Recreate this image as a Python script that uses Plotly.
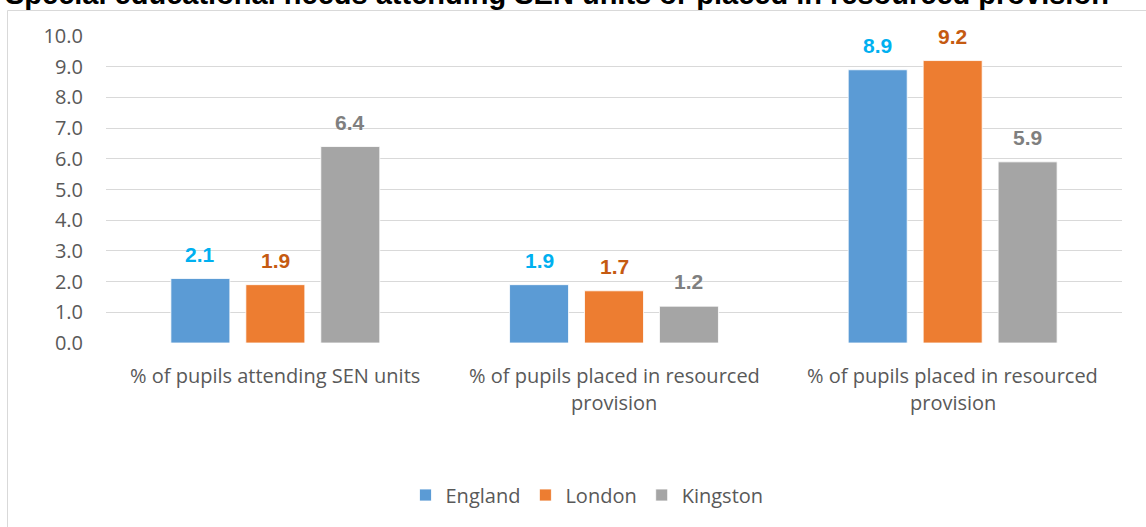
import plotly.graph_objects as go

# ---- data ----
title_text = "Special educational needs attending SEN units or placed in resourced provision"
category_lines = [
    ["% of pupils attending SEN units"],
    ["% of pupils placed in resourced", "provision"],
    ["% of pupils placed in resourced", "provision"],
]
series_names = ["England", "London", "Kingston"]
england = [2.1, 1.9, 8.9]
london = [1.9, 1.7, 9.2]
kingston = [6.4, 1.2, 5.9]
y_ticks = [0, 1, 2, 3, 4, 5, 6, 7, 8, 9, 10]

bar_colors = ["#5B9BD5", "#ED7D31", "#A5A5A5"]
label_colors = ["#00B0F0", "#C55A11", "#7F7F7F"]

# ---- layout geometry ----
W, H = 1146, 527
ML, MR, MT, MB = 106, 24, 36, 184
PW, PH = W - ML - MR, H - MT - MB
BARGAP, GROUPGAP = 0.336, 0.213


def px_x(px):
    return (px - ML) / PW


def px_y(py):
    return (H - MB - py) / PH


xs = list(range(len(category_lines)))
series_vals = [england, london, kingston]

fig = go.Figure()
for name, vals, col in zip(series_names, series_vals, bar_colors):
    fig.add_trace(go.Bar(
        x=xs, y=vals, name=name,
        marker=dict(color=col, line=dict(color="white", width=0.8)),
        hoverinfo="skip",
    ))

cat_w = PW / len(xs)
slot = cat_w * (1 - BARGAP) / len(series_names)

annotations = []
# data labels
for si, (vals, lc) in enumerate(zip(series_vals, label_colors)):
    for xi, v in zip(xs, vals):
        annotations.append(dict(
            x=xi, y=v, xref="x", yref="y", text="<b>%.1f</b>" % v,
            showarrow=False, xanchor="center", yanchor="bottom",
            xshift=(si - 1) * slot, yshift=11,
            font=dict(family="Liberation Sans, Arial", size=21, color=lc),
        ))

# category labels (two lines each)
line_centers = [375, 402]
for xi, lines in zip(xs, category_lines):
    for li, t in enumerate(lines):
        annotations.append(dict(
            x=xi, y=px_y(line_centers[li]), xref="x", yref="paper", text=t,
            showarrow=False, xanchor="center", yanchor="middle",
            font=dict(family="Open Sans", size=20, color="#595959"),
        ))

# clipped title
annotations.append(dict(
    x=px_x(557), y=px_y(-6), xref="paper", yref="paper", text="<b>%s</b>" % title_text,
    showarrow=False, xanchor="center", yanchor="middle",
    font=dict(family="Liberation Sans, Arial", size=29, color="black"),
))

fig.update_layout(
    width=W, height=H,
    margin=dict(l=ML, r=MR, t=MT, b=MB, pad=0),
    paper_bgcolor="white", plot_bgcolor="white",
    barmode="group", bargap=BARGAP, bargroupgap=GROUPGAP,
    showlegend=True,
    legend=dict(
        orientation="h", x=px_x(587), y=px_y(495), xanchor="center", yanchor="middle",
        font=dict(family="Open Sans", size=20, color="#595959"),
        traceorder="normal", itemclick=False, itemdoubleclick=False,
    ),
    xaxis=dict(range=[-0.5, len(xs) - 0.5], showticklabels=False, showgrid=False,
               zeroline=False, showline=False, ticks=""),
    yaxis=dict(range=[0, 10], tickvals=y_ticks, tickformat=".1f",
               showgrid=True, gridcolor="#D9D9D9", gridwidth=1,
               zeroline=False, showline=False, ticks="",
               ticklabelstandoff=22,
               tickfont=dict(family="Open Sans", size=20, color="#595959")),
    annotations=annotations,
    shapes=[dict(type="rect", xref="paper", yref="paper",
                 x0=px_x(7.5), x1=px_x(W + 10), y0=px_y(H + 10), y1=px_y(10.5),
                 line=dict(color="#D9D9D9", width=1), fillcolor="rgba(0,0,0,0)",
                 layer="below")],
)

fig.write_html("out.html", config={"displayModeBar": False})
